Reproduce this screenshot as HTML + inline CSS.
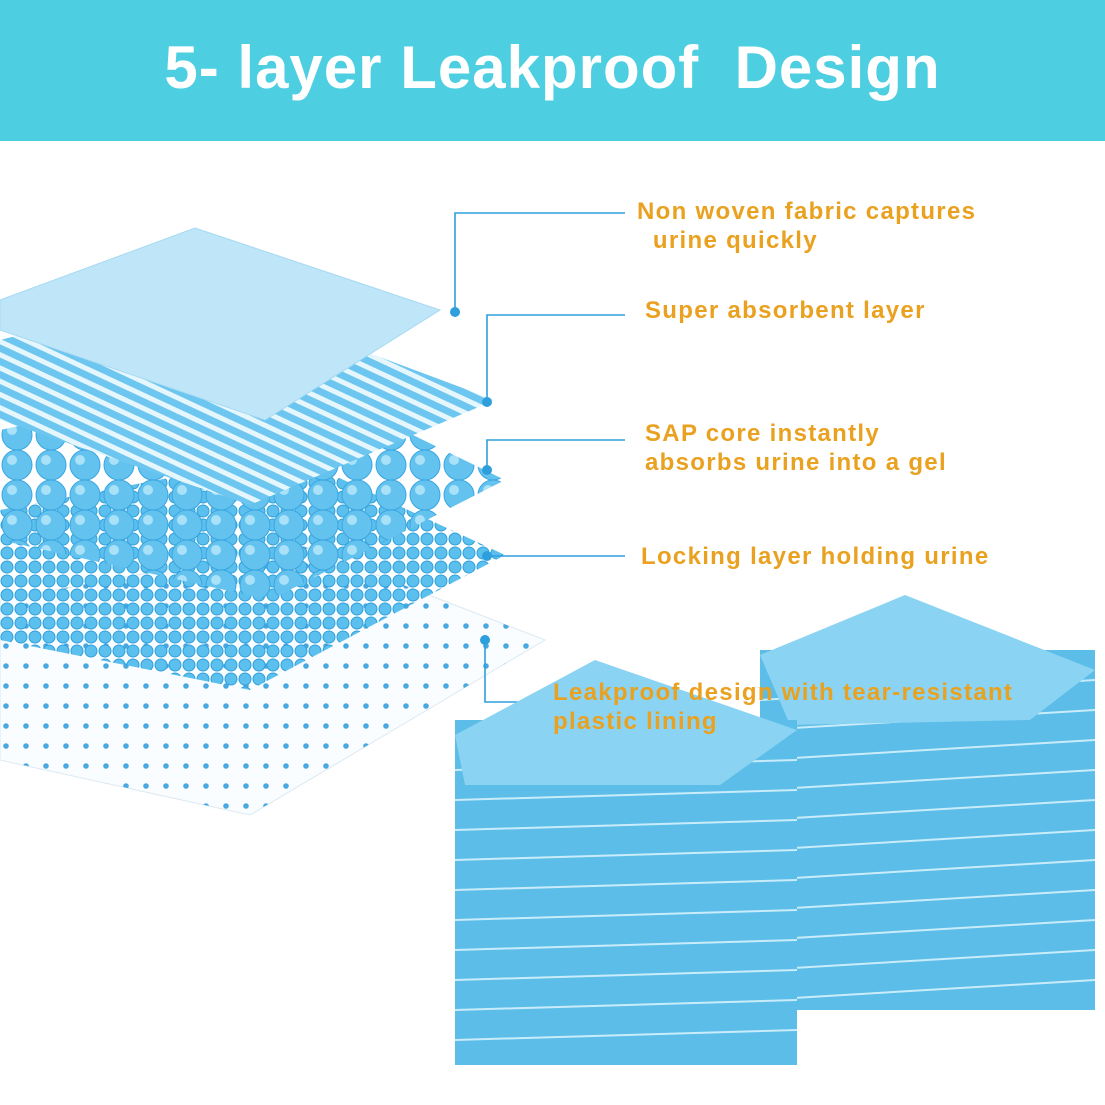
<!DOCTYPE html>
<html><head><meta charset="utf-8"><style>
html,body{margin:0;padding:0;background:#fff;}
body{width:1105px;height:1105px;overflow:hidden;position:relative;font-family:"Liberation Sans",sans-serif;}
.hdr{position:absolute;left:0;top:0;width:1105px;height:141px;background:#4dcfe1;color:#fff;font-weight:bold;font-size:60px;text-align:center;line-height:136px;letter-spacing:1px;}
.lb{position:absolute;color:#e9a11f;font-weight:bold;font-size:24px;line-height:29px;letter-spacing:1.3px;}
svg{position:absolute;left:0;top:0;}
</style></head><body>
<div class="hdr">5- layer Leakproof&nbsp; Design</div>
<svg width="1105" height="1105" viewBox="0 0 1105 1105">
<defs>
<pattern id="dots" width="20" height="20" patternUnits="userSpaceOnUse"><circle cx="6" cy="6" r="2.8" fill="#4aa8e0"/></pattern>
<pattern id="balls" width="34" height="30" patternUnits="userSpaceOnUse"><circle cx="17" cy="15" r="15" fill="#63c2ee" stroke="#3aa6e0" stroke-width="1"/><circle cx="12" cy="10" r="5" fill="#a9e2f8"/></pattern>
<pattern id="lock" width="14" height="14" patternUnits="userSpaceOnUse"><ellipse cx="7" cy="7" rx="6" ry="6" fill="#5cc0ef" stroke="#2f9fdc"/></pattern>
<pattern id="stripe" width="20" height="12" patternUnits="userSpaceOnUse" patternTransform="rotate(25)"><rect width="20" height="7" fill="#6cc6ef"/><rect y="7" width="20" height="5" fill="#e6f6fd"/></pattern>
</defs>
<polygon points="0,600 300,545 545,640 250,815 0,760" fill="#fafdff" stroke="#dbe9f2"/>
<polygon points="0,600 300,545 545,640 250,815 0,760" fill="url(#dots)"/>
<polygon points="0,510 290,455 505,555 250,690 0,640" fill="url(#lock)"/>
<polygon points="0,430 280,370 505,480 270,600 0,540" fill="url(#balls)"/>
<polygon points="0,340 200,290 495,400 250,505 0,420" fill="url(#stripe)"/>
<polygon points="0,300 195,228 440,310 265,420 0,330" fill="#bfe6f8" stroke="#a5d9f2"/>
<g stroke="#2e9fdc" stroke-width="1.6" fill="none">
<polyline points="455,312 455,213 625,213"/>
<polyline points="487,402 487,315 625,315"/>
<polyline points="487,470 487,440 625,440"/>
<polyline points="487,556 625,556"/>
<polyline points="485,640 485,702 545,702"/>
</g>
<g fill="#2e9fdc"><circle cx="455" cy="312" r="5"/><circle cx="487" cy="402" r="5"/><circle cx="487" cy="470" r="5"/><circle cx="487" cy="556" r="5"/><circle cx="485" cy="640" r="5"/></g>
<g>
<rect x="760" y="650" width="335" height="360" fill="#5bbde8"/>
<g stroke="#c9ecfb" stroke-width="2">
<line x1="760" y1="700" x2="1095" y2="680"/><line x1="760" y1="730" x2="1095" y2="710"/><line x1="760" y1="760" x2="1095" y2="740"/><line x1="760" y1="790" x2="1095" y2="770"/><line x1="760" y1="820" x2="1095" y2="800"/><line x1="760" y1="850" x2="1095" y2="830"/><line x1="760" y1="880" x2="1095" y2="860"/><line x1="760" y1="910" x2="1095" y2="890"/><line x1="760" y1="940" x2="1095" y2="920"/><line x1="760" y1="970" x2="1095" y2="950"/><line x1="760" y1="1000" x2="1095" y2="980"/>
</g>
<polygon points="760,655 905,595 1095,670 1030,720 790,725" fill="#8ad3f3"/>
</g>
<g>
<rect x="455" y="720" width="342" height="345" fill="#5bbde8"/>
<g stroke="#c9ecfb" stroke-width="2">
<line x1="455" y1="770" x2="797" y2="760"/><line x1="455" y1="800" x2="797" y2="790"/><line x1="455" y1="830" x2="797" y2="820"/><line x1="455" y1="860" x2="797" y2="850"/><line x1="455" y1="890" x2="797" y2="880"/><line x1="455" y1="920" x2="797" y2="910"/><line x1="455" y1="950" x2="797" y2="940"/><line x1="455" y1="980" x2="797" y2="970"/><line x1="455" y1="1010" x2="797" y2="1000"/><line x1="455" y1="1040" x2="797" y2="1030"/>
</g>
<polygon points="455,735 595,660 797,730 720,785 465,785" fill="#8ad3f3"/>
</g>
</svg>
<div class="lb" style="left:637px;top:197px;">Non woven fabric captures<br>&nbsp;&nbsp;urine quickly</div>
<div class="lb" style="left:645px;top:296px;">Super absorbent layer</div>
<div class="lb" style="left:645px;top:419px;">SAP core instantly<br>absorbs urine into a gel</div>
<div class="lb" style="left:641px;top:542px;">Locking layer holding urine</div>
<div class="lb" style="left:553px;top:678px;">Leakproof design with tear-resistant<br>plastic lining</div>
</body></html>
